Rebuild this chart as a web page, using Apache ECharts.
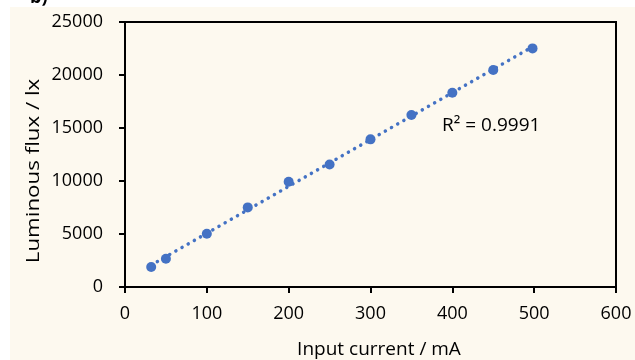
<!DOCTYPE html>
<html><head><meta charset="utf-8">
<script src="https://cdn.jsdelivr.net/npm/echarts@6/dist/echarts.min.js"></script>
<style>html,body{margin:0;padding:0;background:#fff}#c{width:635px;height:360px}</style>
</head><body><div id="c"></div>
<script>
const currents = [32, 50, 100, 150, 200, 250, 300, 350, 400, 450, 498];
const flux = [1880, 2670, 5020, 7510, 9930, 11560, 13930, 16230, 18330, 20470, 22510];
const xTicks = [0, 100, 200, 300, 400, 500, 600];
const yTicks = [0, 5000, 10000, 15000, 20000, 25000];
const rSquaredLabel = 'R² = 0.9991';

// least-squares trendline from the data
const n = currents.length;
const mx = currents.reduce((a,b)=>a+b,0)/n;
const my = flux.reduce((a,b)=>a+b,0)/n;
let sxy=0, sxx=0;
for (let i=0;i<n;i++){ sxy+=(currents[i]-mx)*(flux[i]-my); sxx+=(currents[i]-mx)**2; }
const slope = sxy/sxx, icpt = my - slope*mx;
const xmin = Math.min(...currents), xmax = Math.max(...currents);
const trend = [[xmin, icpt+slope*xmin],[xmax, icpt+slope*xmax]];

const font = '"Open Sans", sans-serif';
const chart = echarts.init(document.getElementById('c'), null, {renderer:'canvas'});
chart.setOption({
  backgroundColor: '#ffffff',
  animation: false,
  graphic: [
    {type:'rect', left:10, top:7, shape:{width:625, height:353}, style:{fill:'#fdf9ef'}, z:-10},
    {type:'text', left:30, top:-11, style:{text:'b)', font:'bold 18px '+font, fill:'#000'}},
    {type:'text', x:379, y:350, style:{text:'Input current / mA', font:'19px '+font, fill:'#000', align:'center', verticalAlign:'middle'}},
    {type:'text', x:34, y:171, rotation:Math.PI/2, scaleX:1.24, style:{text:'Luminous flux / lx', font:'18px '+font, fill:'#000', align:'center', verticalAlign:'middle'}},
    {type:'text', x:442, y:126, style:{text:rSquaredLabel, font:'19px '+font, fill:'#000', verticalAlign:'middle'}}
  ],
  grid: {left:125, right:19, top:22, bottom:73, show:true, borderColor:'#000', borderWidth:2, backgroundColor:'transparent'},
  xAxis: {
    type:'value', min:xTicks[0], max:xTicks[xTicks.length-1], interval:100,
    axisLine:{show:true, onZero:false, lineStyle:{color:'#000', width:2}},
    axisTick:{show:true, length:6, inside:false, lineStyle:{color:'#000', width:2}},
    axisLabel:{color:'#000', fontSize:18, fontFamily:font, margin:18, formatter:v=>String(v)},
    splitLine:{show:false}
  },
  yAxis: {
    type:'value', min:yTicks[0], max:yTicks[yTicks.length-1], interval:5000,
    axisLine:{show:true, onZero:false, lineStyle:{color:'#000', width:2}},
    axisTick:{show:true, length:6, inside:false, lineStyle:{color:'#000', width:2}},
    axisLabel:{color:'#000', fontSize:18, fontFamily:font, margin:22, formatter:v=>String(v)},
    splitLine:{show:false}
  },
  series: [
    {type:'line', data:trend, symbol:'none', z:2,
     lineStyle:{color:'#4472c4', width:3.5, type:[0.1, 7], cap:'round'}},
    {type:'scatter', data:currents.map((x,i)=>[x, flux[i]]), symbol:'circle', symbolSize:10, z:3,
     itemStyle:{color:'#4472c4', opacity:1}}
  ]
});
</script></body></html>
